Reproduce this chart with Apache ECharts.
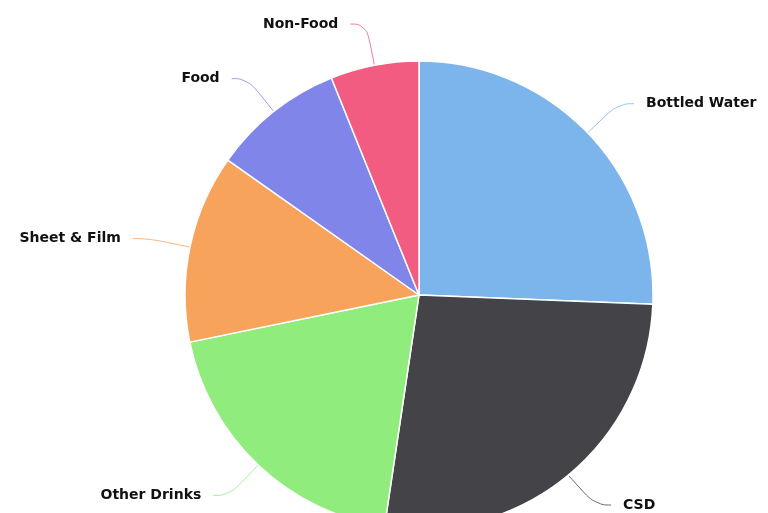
<!DOCTYPE html>
<html><head><meta charset="utf-8">
<script src="https://cdn.jsdelivr.net/npm/echarts@6/dist/echarts.min.js"></script>
<style>html,body{margin:0;padding:0;background:#fff}#c{width:768px;height:513px}</style>
</head><body><div id="c"></div>
<script>
const categories = ["Bottled Water", "CSD", "Other Drinks", "Sheet & Film", "Food", "Non-Food"];
const values = [25.6, 26.7, 19.4, 13.0, 9.1, 6.1];
const colors = ["#7cb5ec", "#434348", "#90ed7d", "#f7a35c", "#8085e9", "#f15c80"];

const chart = echarts.init(document.getElementById('c'), null, {renderer: 'canvas'});
chart.setOption({
  animation: false,
  series: [{
    type: 'pie',
    center: [419, 295],
    radius: 234,
    startAngle: 90,
    clockwise: true,
    avoidLabelOverlap: true,
    itemStyle: {borderColor: '#fff', borderWidth: 1.5},
    label: {
      show: true,
      position: 'outside',
      fontFamily: 'DejaVu Sans',
      fontWeight: 'bold',
      fontSize: 14,
      color: '#111',
      overflow: 'none',
      distanceToLabelLine: 12
    },
    labelLine: {show: true, length: 42, length2: 16, smooth: 0.5, lineStyle: {width: 1, opacity: 0.8}},
    data: categories.map((n, i) => ({name: n, value: values[i], itemStyle: {color: colors[i]}}))
  }]
});
</script></body></html>
